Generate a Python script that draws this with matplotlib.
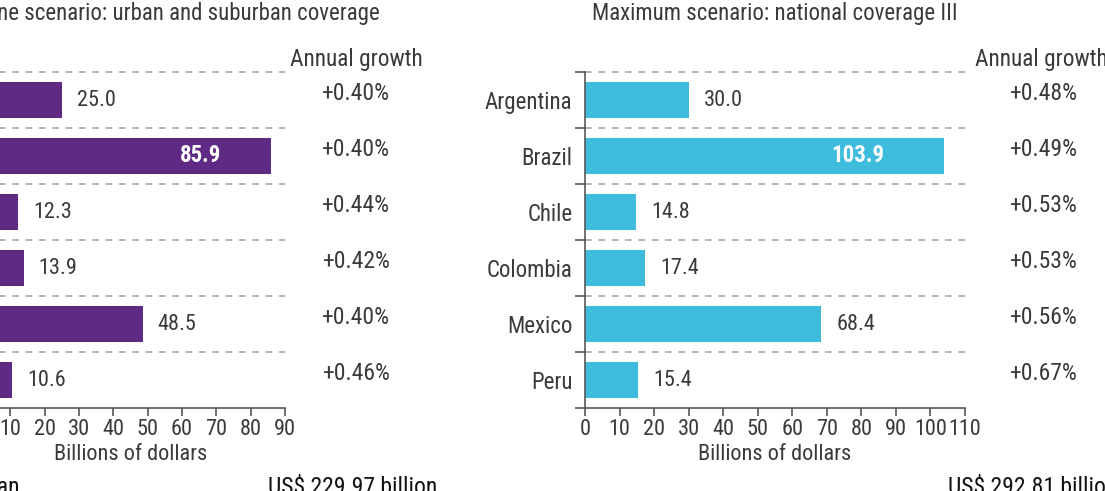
import matplotlib
matplotlib.use("Agg")
import matplotlib.pyplot as plt

plt.rcParams['font.family'] = ['Roboto Condensed', 'Archivo Narrow', 'DejaVu Sans']

countries = ["Argentina", "Brazil", "Chile", "Colombia", "Mexico", "Peru"]
base_values = [25.0, 85.9, 12.3, 13.9, 48.5, 10.6]
base_growth = ["+0.40%", "+0.40%", "+0.44%", "+0.42%", "+0.40%", "+0.46%"]
max_values = [30.0, 103.9, 14.8, 17.4, 68.4, 15.4]
max_growth = ["+0.48%", "+0.49%", "+0.53%", "+0.53%", "+0.56%", "+0.67%"]
base_ticks = list(range(0, 100, 10))
max_ticks = list(range(0, 120, 10))

text_col = "#3a3a3a"
W, H = 1105, 491
fig = plt.figure(figsize=(11.05, 4.91), dpi=100)


def px(x, y, w, h):
    # pixel box (from top-left) -> figure fraction
    return [x / W, 1 - (y + h) / H, w / W, h / H]


def panel(ax, values, growth, ticks, color, title, title_x, title_ha,
          grow_x, head_x, head_ha):
    n = len(countries)
    ypos = list(range(n))
    xmax = ticks[-1]
    ax.barh(ypos, values, height=0.64, color=color)
    ax.hlines([i - 0.5 for i in range(n)], 0, xmax, colors="#a8a8a8",
              linestyles=(0, (4, 4)), linewidth=1.2, clip_on=False)
    ax.set_xlim(0, xmax)
    ax.set_ylim(n - 0.5, -0.5)
    ax.set_xticks(ticks)
    ax.set_yticks(ypos)
    ax.set_yticklabels(countries)
    ax.set_yticks([i - 0.5 for i in range(n + 1)], minor=True)
    ax.tick_params(axis="y", which="major", length=0, pad=9, labelsize=16.5,
                   labelcolor=text_col)
    ax.tick_params(axis="y", which="minor", length=7, width=1.2, color="#555555")
    ax.tick_params(axis="x", length=6, width=1.2, color="#555555",
                   labelsize=16, labelcolor=text_col, pad=2)
    for s in ["top", "right"]:
        ax.spines[s].set_visible(False)
    for s in ["left", "bottom"]:
        ax.spines[s].set_color("#555555")
        ax.spines[s].set_linewidth(1.2)
    ax.set_xlabel("Billions of dollars", fontsize=16, color=text_col, labelpad=3)

    vmax = max(values)
    for i, v in enumerate(values):
        if v == vmax:
            ax.text(v * 0.76, i, f"{v:.1f}", ha="center", va="center",
                    color="white", fontsize=16.5, fontweight="bold")
        else:
            ax.annotate(f"{v:.1f}", (v, i), xytext=(15, 0),
                        textcoords="offset pixels", ha="left", va="center",
                        color=text_col, fontsize=16)
        ax.text(grow_x, i - 0.12, growth[i], ha="center", va="center",
                color=text_col, fontsize=17, clip_on=False)
    ax.text(head_x, -0.73, "Annual growth", ha=head_ha, va="center",
            color=text_col, fontsize=16.8, clip_on=False)
    ax.text(title_x, -1.54, title, ha=title_ha, va="center",
            color=text_col, fontsize=16.5, clip_on=False)


ax1 = fig.add_axes(px(-24, 72, 309, 336))
ax2 = fig.add_axes(px(585, 72, 380, 336))

panel(ax1, base_values, base_growth, base_ticks, "#5e2a84",
      "Baseline scenario: urban and suburban coverage", 117.5, "right",
      110.8, 110.8, "center")
panel(ax2, max_values, max_growth, max_ticks, "#3dbcdc",
      "Maximum scenario: national coverage III", 55, "center",
      132.8, 113.0, "left")

fig.text(20 / W, 1 - 494 / H, "Total investment plan", ha="right",
         va="baseline", fontsize=17, color="#111111")
fig.text(268 / W, 1 - 494 / H, "US$ 229.97 billion", ha="left",
         va="baseline", fontsize=17, color="#111111")
fig.text(948 / W, 1 - 494 / H, "US$ 292.81 billion", ha="left",
         va="baseline", fontsize=17, color="#111111")

fig.savefig("out.png", dpi=100)
